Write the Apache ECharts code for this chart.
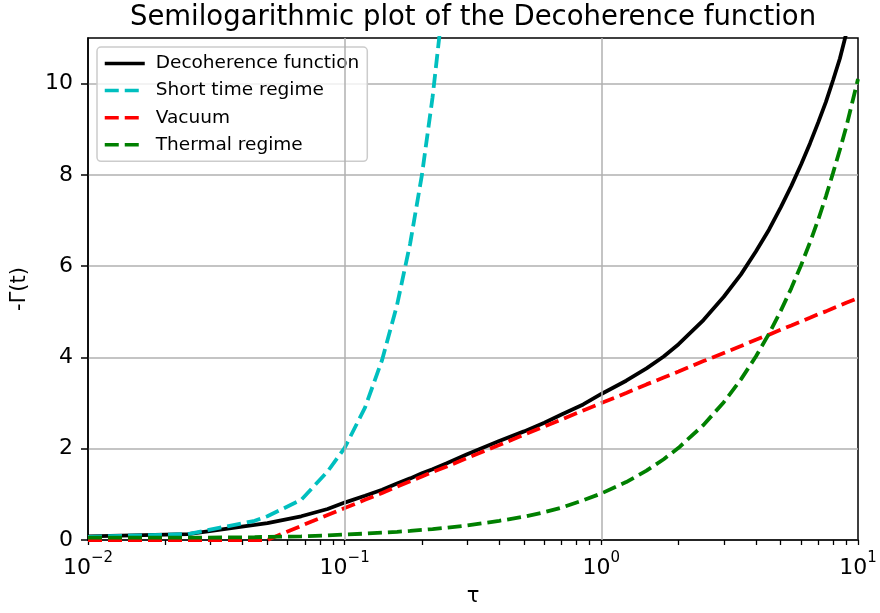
<!DOCTYPE html>
<html>
<head>
<meta charset="utf-8">
<script src="https://cdn.jsdelivr.net/npm/echarts@6/dist/echarts.min.js"></script>
<style>
  html, body { margin: 0; padding: 0; background: #fff; }
  #chart { width: 880px; height: 613px; }
</style>
</head>
<body>
<div id="chart"></div>
<script>
// sample times (tau)
const tau = [0.01, 0.0245, 0.0446, 0.05, 0.0677, 0.0858, 0.1, 0.12, 0.14, 0.16, 0.18, 0.2, 0.22, 0.25,
  0.3, 0.4, 0.5, 0.6, 0.7, 0.85, 1, 1.25, 1.5, 1.75, 2, 2.5, 3, 3.5, 4, 4.5, 5, 5.5, 6, 6.5, 7, 7.5,
  8, 8.5, 9, 10]

// values
const decoherence = [0.08, 0.13, 0.33, 0.37, 0.52, 0.68, 0.82, 0.97, 1.1, 1.24, 1.35, 1.46, 1.55, 1.68,
  1.88, 2.17, 2.38, 2.57, 2.75, 2.97, 3.2, 3.49, 3.76, 4.02, 4.29, 4.82, 5.33, 5.82, 6.32, 6.8, 7.29, 7.76,
  8.23, 8.69, 9.15, 9.6, 10.08, 10.55, 11.1, null]
const shortTime = [0.07, 0.13, 0.42, 0.52, 0.88, 1.5, 2.02, 2.9, 3.95, 5.15, 6.5, 8.0, 9.7, 12.5]
const vacuum = [0, 0, 0, 0, 0.31, 0.55, 0.70, 0.88, 1.03, 1.17, 1.29, 1.39, 1.49, 1.61,
  1.80, 2.08, 2.31, 2.49, 2.64, 2.84, 3.0, 3.22, 3.41, 3.56, 3.69, 3.92, 4.10, 4.25, 4.39, 4.50, 4.61,
  4.70, 4.79, 4.87, 4.95, 5.01, 5.08, 5.14, 5.20, 5.30]
const thermal = [0.05, 0.05, 0.06, 0.07, 0.08, 0.1, 0.12, 0.14, 0.16, 0.18, 0.2, 0.22, 0.24, 0.27,
  0.32, 0.42, 0.51, 0.61, 0.71, 0.87, 1.02, 1.27, 1.52, 1.77, 2.02, 2.52, 3.02, 3.52, 4.02, 4.52, 5.02,
  5.52, 6.02, 6.52, 7.02, 7.53, 8.05, 8.55, 9.05, 10.1]

const yTicks = [0, 2, 4, 6, 8, 10]
const xMajor = [0.01, 0.1, 1, 10]
const xTicks = [0.01, 0.02, 0.03, 0.04, 0.05, 0.06, 0.07, 0.08, 0.09,
  0.1, 0.2, 0.3, 0.4, 0.5, 0.6, 0.7, 0.8, 0.9,
  1, 2, 3, 4, 5, 6, 7, 8, 9, 10]

const FONT = 'DejaVu Sans'
const GRID_GRAY = '#b0b0b0'
const pairs = arr => arr.map((v, i) => [tau[i], v])

function lineSeries(name, data, color, dashed) {
  return {
    name,
    type: 'line',
    z: 3,
    data: pairs(data),
    symbol: 'none',
    connectNulls: false,
    lineStyle: {
      color,
      width: 3.8,
      type: dashed ? [14, 6] : 'solid',
    },
    itemStyle: { color },
  }
}

const chart = echarts.init(document.getElementById('chart'))
chart.setOption({
  animation: false,
  textStyle: { fontFamily: FONT },
  title: {
    text: 'Semilogarithmic plot of the Decoherence function',
    left: 468,
    top: -1,
    textAlign: 'center',
    textStyle: { fontFamily: FONT, fontSize: 27.5, fontWeight: 'normal', color: '#000' },
  },
  grid: {
    left: 88,
    right: 22,
    top: 38,
    bottom: 73,
    show: true,
    borderColor: '#000',
    borderWidth: 1.5,
    backgroundColor: 'transparent',
  },
  legend: {
    data: ['Decoherence function', 'Short time regime', 'Vacuum', 'Thermal regime'],
    orient: 'vertical',
    left: 97,
    top: 47,
    itemWidth: 40,
    itemHeight: 14,
    itemGap: 8.1,
    padding: [7, 8, 7, 6],
    backgroundColor: 'rgba(255,255,255,0.8)',
    borderColor: '#cccccc',
    borderWidth: 1.5,
    borderRadius: 4,
    itemStyle: { opacity: 0, borderWidth: 0 },
    lineStyle: { width: 3.5 },
    textStyle: { fontFamily: FONT, fontSize: 18.5, color: '#000', padding: [0, 0, 0, 6] },
  },
  xAxis: {
    type: 'log',
    logBase: 10,
    min: 0.01,
    max: 10,
    name: 'τ',
    nameLocation: 'middle',
    nameGap: 46,
    nameTextStyle: { fontFamily: FONT, fontSize: 21, color: '#000' },
    axisLine: { lineStyle: { color: '#000', width: 1.5 } },
    axisTick: { inside: false, length: 5, customValues: xTicks, lineStyle: { color: '#000', width: 1.3 } },
    axisLabel: {
      margin: 11,
      color: '#000',
      customValues: xMajor,
      formatter: v => '{b|10}{s|' + String(Math.round(Math.log10(v))).replace('-', '−') + '}',
      rich: {
        b: { fontFamily: FONT, fontSize: 22, color: '#000', lineHeight: 28, verticalAlign: 'bottom' },
        s: { fontFamily: FONT, fontSize: 15, color: '#000', lineHeight: 28, verticalAlign: 'top' },
      },
    },
    splitLine: { show: false },
  },
  yAxis: {
    type: 'value',
    min: 0,
    max: 11,
    interval: 2,
    name: '-Γ(t)',
    nameLocation: 'middle',
    nameGap: 58,
    nameTextStyle: { fontFamily: FONT, fontSize: 21, color: '#000' },
    axisLine: { show: true, lineStyle: { color: '#000', width: 1.5 } },
    axisTick: { show: true, length: 7, customValues: yTicks, lineStyle: { color: '#000', width: 1.5 } },
    axisLabel: {
      margin: 15,
      color: '#000',
      fontFamily: FONT,
      fontSize: 22,
      customValues: yTicks,
    },
    splitLine: { lineStyle: { color: GRID_GRAY, width: 1.5 } },
  },
  series: [
    {
      // vertical grid lines at the major x ticks, kept under the curves
      name: 'xgrid',
      type: 'line',
      z: 1,
      data: [],
      silent: true,
      markLine: {
        silent: true,
        symbol: 'none',
        label: { show: false },
        lineStyle: { color: GRID_GRAY, width: 1.5, type: 'solid' },
        data: xMajor.slice(1, -1).map(v => ({ xAxis: v })),
      },
    },
    lineSeries('Decoherence function', decoherence, '#000000', false),
    lineSeries('Short time regime', shortTime, '#00bfbf', true),
    lineSeries('Vacuum', vacuum, '#ff0000', true),
    lineSeries('Thermal regime', thermal, '#008000', true),
  ],
})
</script>
</body>
</html>
